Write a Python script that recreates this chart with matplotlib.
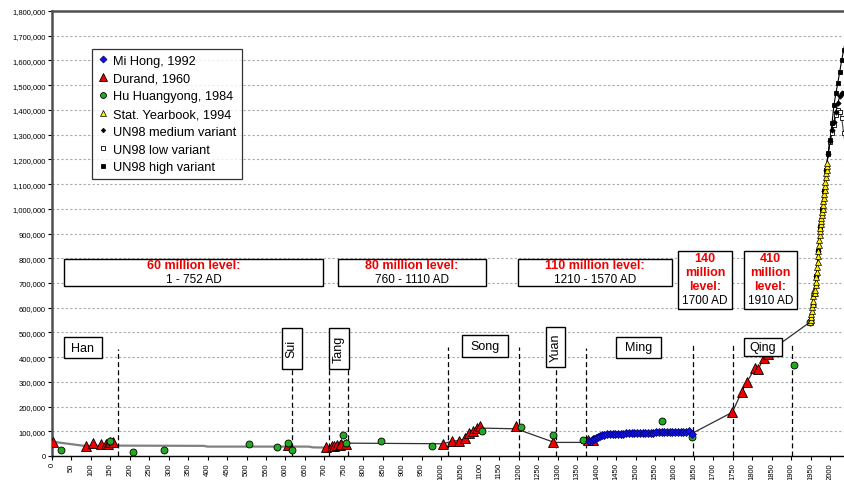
import numpy as np
import matplotlib.pyplot as plt
from matplotlib.patches import Rectangle
from matplotlib.ticker import FuncFormatter, MultipleLocator

plt.rcParams['font.family'] = ['Liberation Sans', 'DejaVu Sans']

# population of China, thousands of people -> plotted as raw numbers
durand_years = [2, 88, 105, 125, 140, 145, 150, 157, 606, 705, 720, 726, 732, 740, 744, 755,
                1006, 1027, 1045, 1062, 1073, 1083, 1092, 1100, 1193, 1287, 1379, 1390,
                1749, 1773, 1787, 1807, 1816, 1829, 1841, 1851]
durand_vals = [58000, 42000, 53000, 50000, 50000, 48000, 55000, 58000, 46000, 38000, 40000, 42000,
               44000, 46000, 48000, 50000,
               49000, 62000, 62000, 73000, 93000, 103000, 113000, 122000, 123000, 58000, 65000, 65000,
               177000, 260000, 301000, 355000, 352000, 396000, 413000, 430000]

hu_years = [23, 149, 209, 288, 507, 579, 607, 618, 749, 757, 845, 978, 1106, 1206, 1287,
            1366, 1567, 1645, 1907, 1949]
hu_vals = [26000, 60000, 15000, 26000, 49000, 37000, 51000, 25000, 83000, 52000, 60000, 42000,
           103000, 116000, 86000, 64000, 143000, 76000, 370000, 542000]

mihong_years = [1381, 1388, 1393, 1398, 1403, 1408, 1414, 1420, 1427, 1434, 1441, 1448, 1455,
                1462, 1469, 1476, 1483, 1490, 1497, 1504, 1511, 1518, 1525, 1532, 1539, 1546,
                1553, 1560, 1567, 1574, 1581, 1588, 1595, 1602, 1609, 1616, 1623, 1630, 1637, 1646]
mihong_vals = [62000, 66000, 68000, 72000, 78000, 82000, 85000, 86000, 87000, 88000, 89000, 89500,
               90000, 90500, 91000, 91500, 92000, 92500, 93000, 93000, 93500, 94000, 94000, 94500,
               95000, 95000, 95500, 96000, 96000, 96500, 97000, 97000, 97500, 98000, 98000, 98500,
               99000, 99000, 99500, 91000]

stat_years = list(range(1949, 1994))
stat_vals = [542000, 552000, 563000, 575000, 588000, 603000, 615000, 628000, 647000, 660000,
             672000, 662000, 659000, 673000, 692000, 705000, 725000, 745000, 764000, 785000,
             807000, 830000, 852000, 872000, 892000, 909000, 924000, 937000, 950000, 963000,
             975000, 987000, 1001000, 1017000, 1030000, 1044000, 1059000, 1075000, 1093000,
             1110000, 1127000, 1143000, 1158000, 1172000, 1185000]

un_years = list(range(1950, 2055, 5))
un_medium = [555000, 609000, 657000, 729000, 831000, 928000, 999000, 1070000, 1155000, 1220000,
             1276000, 1318000, 1352000, 1392000, 1428000, 1455000, 1468000, 1470000, 1465000,
             1470000, 1478000]
un_low = [555000, 609000, 657000, 729000, 831000, 928000, 999000, 1070000, 1155000, 1220000,
          1272000, 1305000, 1339000, 1380000, 1400000, 1393000, 1366000, 1305000, 1250000,
          1190000, 1130000]
un_high = [555000, 609000, 657000, 729000, 831000, 928000, 999000, 1070000, 1155000, 1224000,
           1280000, 1345000, 1420000, 1467000, 1510000, 1555000, 1602000, 1643000, 1684000,
           1720000, 1750000]

# trend line (no legend entry)
trend_a_years = [0, 88, 165, 390, 400, 660, 670, 705, 715, 757]
trend_a_vals = [58000, 40000, 42000, 41000, 38000, 38000, 35000, 34000, 40000, 52000]
trend_b_years = [757, 960, 1006, 1027, 1045, 1062, 1073, 1083, 1092, 1100, 1193, 1291, 1375,
                 1393, 1410, 1450, 1500, 1550, 1600, 1640, 1646, 1749, 1773, 1787, 1807, 1816,
                 1829, 1850, 1949]
trend_b_vals = [52000, 50000, 49000, 60000, 62000, 70000, 88000, 100000, 108000, 113000, 110000,
                55000, 55000, 62000, 78000, 88000, 92000, 95000, 97000, 99000, 92000, 177000,
                260000, 301000, 355000, 352000, 396000, 430000, 542000]

# dynasty boundaries: (year, top of dashed line)
boundaries = [(169, 434000), (616, 353000), (712, 353000), (762, 353000), (1018, 440000),
              (1200, 440000), (1296, 360000), (1373, 437000), (1647, 447000), (1750, 447000),
              (1901, 447000)]

# dynasty label boxes: name, x0, x1, y0, y1, rotated
dynasties = [("Han", 31, 128, 396000, 481000, False),
             ("Sui", 590, 642, 353000, 519000, True),
             ("Tang", 711, 763, 353000, 519000, True),
             ("Song", 1055, 1171, 402000, 488000, False),
             ("Yuan", 1269, 1319, 360000, 522000, True),
             ("Ming", 1450, 1566, 397000, 481000, False),
             ("Qing", 1779, 1876, 404000, 478000, False)]

# population level boxes: red lines, black line, x0, x1, y0, y1
levels = [(["60 million level:"], "1 - 752 AD", 31, 697, 688000, 798000),
          (["80 million level:"], "760 - 1110 AD", 734, 1116, 688000, 798000),
          (["110 million level:"], "1210 - 1570 AD", 1199, 1593, 688000, 798000),
          (["140", "million", "level:"], "1700 AD", 1610, 1747, 596000, 828000),
          (["410", "million", "level:"], "1910 AD", 1779, 1914, 596000, 828000)]

fig = plt.figure(figsize=(8.45, 4.81), dpi=100)
ax = fig.add_axes([52 / 845, 24 / 481, 797.5 / 845, 445 / 481])
ax.set_xlim(0, 2050)
ax.set_ylim(0, 1800000)

ax.yaxis.set_major_locator(MultipleLocator(100000))
ax.set_xticks(np.arange(0, 2001, 50))
ax.yaxis.set_major_formatter(FuncFormatter(lambda v, p: f"{int(v):,}"))
ax.tick_params(axis='both', labelsize=5.5, length=3, width=0.8, direction='out', pad=1.5)
ax.tick_params(axis='x', labelrotation=90)
ax.grid(axis='y', color='#a8a8a8', linestyle=(0, (2, 2)), linewidth=0.8)
ax.set_axisbelow(True)
for s in ['left', 'top']:
    ax.spines[s].set_color('#505050')
    ax.spines[s].set_linewidth(1.8)
ax.spines['bottom'].set_linewidth(1.0)
ax.spines['right'].set_visible(False)

# trend lines
ax.plot(trend_a_years, trend_a_vals, color='#808080', lw=1.6, zorder=2)
ax.plot(trend_b_years, trend_b_vals, color='#303030', lw=0.9, zorder=2)

# dynasty boundaries
for yr, top in boundaries:
    ax.plot([yr, yr], [0, top], color='black', lw=0.9, linestyle=(0, (4, 2.5)), zorder=2)

# UN connecting lines
ax.plot(un_years, un_low, color='#404040', lw=0.8, zorder=3)
ax.plot(un_years, un_high, color='black', lw=0.8, zorder=3)
ax.plot(un_years, un_medium, color='black', lw=0.8, zorder=3)
ax.plot(stat_years, stat_vals, color='black', lw=0.6, zorder=3)

h_dur, = ax.plot(durand_years, durand_vals, '^', ms=7, mfc='#ee0000', mec='black', mew=0.6,
                 ls='none', label='Durand, 1960', zorder=4)
h_hu, = ax.plot(hu_years, hu_vals, 'o', ms=5, mfc='#22aa22', mec='black', mew=0.6,
                ls='none', label='Hu Huangyong, 1984', zorder=5)
h_mi, = ax.plot(mihong_years, mihong_vals, 'D', ms=4.2, mfc='#1010ee', mec='#000060', mew=0.5,
                ls='none', label='Mi Hong, 1992', zorder=6)
h_low, = ax.plot(un_years, un_low, 's', ms=3.5, mfc='white', mec='black', mew=0.6,
                 ls='none', label='UN98 low variant', zorder=6)
h_high, = ax.plot(un_years, un_high, 's', ms=3.5, mfc='black', mec='black', mew=0.6,
                  ls='none', label='UN98 high variant', zorder=6)
h_med, = ax.plot(un_years, un_medium, 'D', ms=2.8, mfc='black', mec='black', mew=0.4,
                 ls='none', label='UN98 medium variant', zorder=7)
h_stat, = ax.plot(stat_years, stat_vals, '^', ms=5, mfc='#ffee00', mec='black', mew=0.5,
                  ls='none', label='Stat. Yearbook, 1994', zorder=7)

# dynasty boxes
for name, x0, x1, y0, y1, rot in dynasties:
    ax.add_patch(Rectangle((x0, y0), x1 - x0, y1 - y0, facecolor='white', edgecolor='black',
                           lw=1.0, zorder=8))
    ax.text((x0 + x1) / 2, (y0 + y1) / 2, name, ha='center', va='center', fontsize=9,
            rotation=90 if rot else 0, zorder=9)

# level boxes, one text per line (about 14 px = 57,000 apart)
step = 56500
for reds, black, x0, x1, y0, y1 in levels:
    ax.add_patch(Rectangle((x0, y0), x1 - x0, y1 - y0, facecolor='white', edgecolor='black',
                           lw=1.0, zorder=8))
    cx = (x0 + x1) / 2
    ytop = y1 - 27000
    for i, line in enumerate(reds):
        ax.text(cx, ytop - i * step, line, ha='center', va='center', fontsize=9,
                color='#ee0000', fontweight='bold', zorder=9)
    ax.text(cx, ytop - len(reds) * step, black, ha='center', va='center', fontsize=8.5,
            zorder=9)

leg = fig.legend(handles=[h_mi, h_dur, h_hu, h_stat, h_med, h_low, h_high],
                 loc='upper left', bbox_to_anchor=(92 / 845, 1 - 50 / 481), borderaxespad=0,
                 fontsize=9.2, frameon=True, fancybox=False, edgecolor='black',
                 handlelength=0.8, handletextpad=0.4, borderpad=0.45, labelspacing=0.45,
                 markerscale=0.85)
leg.get_frame().set_linewidth(0.9)

fig.savefig('out.png', dpi=100)
